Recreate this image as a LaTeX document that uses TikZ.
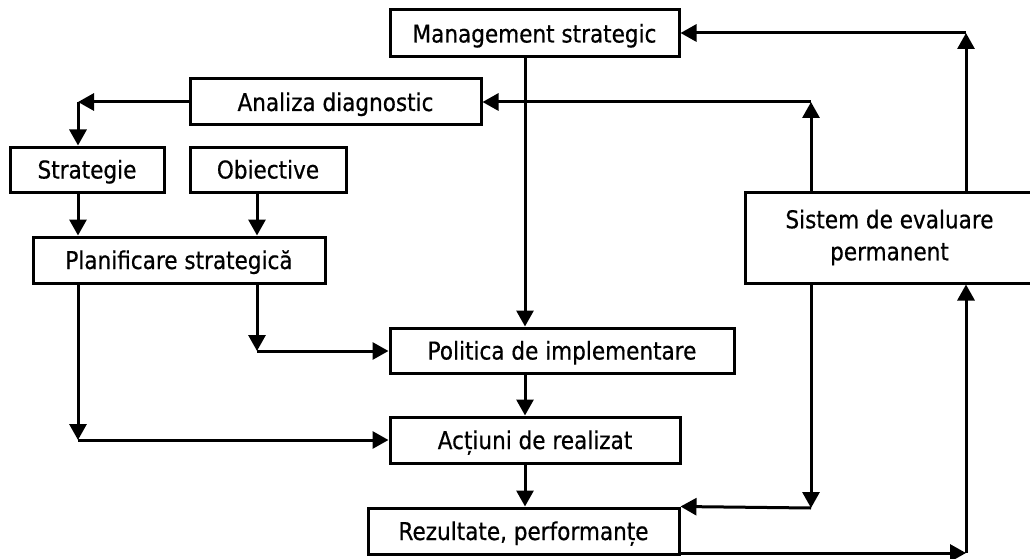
\documentclass[tikz,border=0pt]{standalone}
\usepackage{fontspec}
\setmainfont[FakeStretch=0.88,FakeBold=0.6]{DejaVu Sans}
\usetikzlibrary{arrows.meta,calc}
\begin{document}
\begin{tikzpicture}[x=1pt,y=-1pt,
  box/.style={draw,line width=3pt,rectangle,inner sep=0pt,font=\fontsize{24.5}{32}\selectfont,align=center,text height=18pt,text depth=0pt},
  arr/.style={line width=3pt,-{Triangle[length=16pt,width=17pt]}}]
\useasboundingbox (0,0) rectangle (1030,559);
\node[box,minimum width=289pt,minimum height=47pt] (MS) at (534.5,33.5) {Management strategic};
\node[box,minimum width=291pt,minimum height=46pt] (AD) at (335.5,102) {Analiza diagnostic};
\node[box,minimum width=154pt,minimum height=45pt] (ST) at (87,169.5) {Strategie};
\node[box,minimum width=156pt,minimum height=45pt] (OB) at (268,169.5) {Obiective};
\node[box,minimum width=292pt,minimum height=46pt] (PS) at (179,260) {Planificare strategică};
\node[box,minimum width=344pt,minimum height=45pt] (PI) at (562,350.5) {Politica de implementare};
\node[box,minimum width=290pt,minimum height=46pt] (AR) at (535,440) {Acțiuni de realizat};
\node[box,minimum width=311pt,minimum height=46pt] (RP) at (523.5,531) {Rezultate, performanțe};
\node[box,minimum width=289pt,minimum height=91pt,text height=,text depth=] (SE) at (889.5,237.5) {Sistem de evaluare\\permanent};
% column coordinates
\coordinate (xa) at (78,0);
\coordinate (xb) at (257,0);
\coordinate (xm) at (525,0);
\coordinate (xs1) at (811,0);
\coordinate (xs2) at (966,0);
% corners
\coordinate (c1) at (78,102);
\coordinate (c2) at (78,440);
\coordinate (c3) at (257,351);
\coordinate (c4) at (811,102);
\coordinate (c5) at (966,33);
\coordinate (c6) at (811,508);
\coordinate (c7) at (966,553);
% Analiza -> Strategie
\draw[arr] (AD.west) -- (c1);
\draw[arr] (c1) -- (ST.north -| c1);
\draw[arr] (ST.south -| xa) -- (PS.north -| xa);
\draw[arr] (OB.south -| xb) -- (PS.north -| xb);
% Planificare -> Actiuni / Politica
\draw[arr] (PS.south -| xa) -- (c2);
\draw[arr] (c2) -- (AR.west |- c2);
\draw[arr] (PS.south -| xb) -- (c3);
\draw[arr] (c3) -- (PI.west |- c3);
% main column
\draw[arr] (MS.south -| xm) -- (PI.north -| xm);
\draw[arr] (PI.south -| xm) -- (AR.north -| xm);
\draw[arr] (AR.south -| xm) -- (RP.north -| xm);
% Sistem feedback
\draw[arr] (SE.north -| xs1) -- (c4);
\draw[arr] (c4) -- (AD.east |- c4);
\draw[arr] (SE.north -| xs2) -- (c5);
\draw[arr] (c5) -- (MS.east |- c5);
\draw[arr] (SE.south -| xs1) -- (c6);
\draw[arr] (c6) -- (RP.north east);
\draw[arr] (RP.south east |- c7) -- (c7);
\draw[arr] (c7) -- (SE.south -| xs2);
\end{tikzpicture}
\end{document}
